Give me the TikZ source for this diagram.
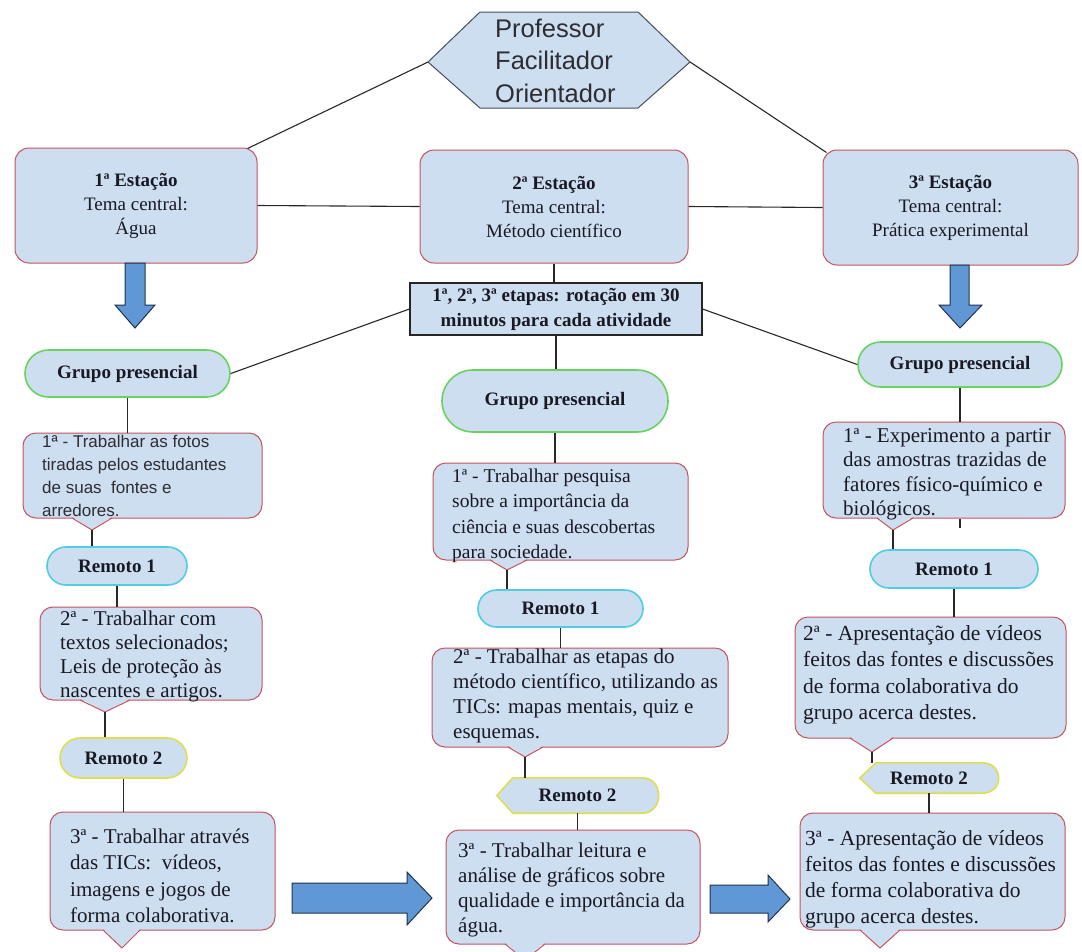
\documentclass[tikz,border=0pt]{standalone}
\usepackage{fontspec}
\setmainfont{Liberation Serif}
\newfontfamily\arialf{Liberation Sans}
\usetikzlibrary{shapes.misc,calc,backgrounds}
\definecolor{lightb}{RGB}{206,222,241}
\definecolor{boxred}{RGB}{196,84,92}
\definecolor{hexline}{RGB}{70,80,90}
\definecolor{gpgreen}{RGB}{105,210,95}
\definecolor{rcyan}{RGB}{80,205,225}
\definecolor{ryellow}{RGB}{222,222,80}
\definecolor{arrowb}{RGB}{95,152,212}
\definecolor{arrowline}{RGB}{35,50,75}
\definecolor{txt}{RGB}{25,25,35}
\definecolor{sanstxt}{RGB}{45,45,50}
\definecolor{conncol}{RGB}{40,40,40}
\newcommand{\mylines}[1]{\begin{tabular}[t]{@{}l@{}}#1\end{tabular}}
\newcommand{\pointer}[4]{%
  \fill[lightb] (#2,#1-1.5) -- (#4) -- (#3,#1-1.5) -- cycle;
  \draw[draw=boxred, line width=1pt, line join=round] (#2,#1) -- (#4) -- (#3,#1);}
\newcommand{\dispshape}[1]{%
  \begin{scope}[on background layer]
  \draw[fill=lightb, draw=ryellow, line width=1.6pt, line join=round]
    (#1.west) -- ($(#1.north west)+(16,0)$) -- ($(#1.north east)+(-16,0)$)
    .. controls ($(#1.north east)+(6,0)$) and ($(#1.south east)+(6,0)$) .. ($(#1.south east)+(-16,0)$)
    -- ($(#1.south west)+(16,0)$) -- cycle;
  \end{scope}}
\begin{document}
\begin{tikzpicture}[x=1pt,y=-1pt,
  station/.style={rectangle, rounded corners=14pt, draw=boxred, fill=lightb, line width=1pt, align=center, text=txt, font=\fontsize{19}{24}\selectfont, inner sep=0pt},
  callbox/.style={rectangle, rounded corners=13pt, draw=boxred, fill=lightb, line width=1pt, inner sep=0pt},
  calltext/.style={anchor=base west, inner sep=0pt, text=txt},
  pill/.style={rounded rectangle, fill=lightb, line width=1.6pt, inner sep=0pt, text=txt, font=\bfseries\fontsize{19}{23}\selectfont},
  gp/.style={pill, draw=gpgreen},
  rem1/.style={pill, draw=rcyan},
  rem2/.style={pill, draw=ryellow},
  remdisp/.style={inner sep=0pt, text=txt, font=\bfseries\fontsize{19}{23}\selectfont},
  conn/.style={draw=conncol, line width=1.1pt},
  blockarrow/.style={fill=arrowb, draw=arrowline, line width=1pt, line join=miter},
]
\useasboundingbox (0,0) rectangle (1082,951);
\begin{scope}[on background layer]
\fill[white] (0,0) rectangle (1082,951);
\end{scope}

% hexagon
\draw[fill=lightb, draw=hexline, line width=1pt] (428,62) coordinate (hexL) -- (480,12) -- (638,12) -- (690,62) coordinate (hexR) -- (638,108) -- (480,108) -- cycle;
\node[anchor=base west, inner sep=0pt, text=sanstxt, font=\arialf\fontsize{25.5}{32.5}\selectfont] (hext) at (495,37) {\mylines{Professor\\Facilitador\\Orientador}};

% stations
\node[station, minimum width=242pt, minimum height=115pt] (st1) at (136,205.5) {\textbf{1ª Estação}\\Tema central:\\Água};
\node[station, minimum width=268pt, minimum height=113pt] (st2) at (554,206.5) {\textbf{2ª Estação}\\Tema central:\\Método científico};
\node[station, minimum width=255pt, minimum height=115pt] (st3) at (950.5,207.5) {\textbf{3ª Estação}\\Tema central:\\Prática experimental};

\draw[conn] (hexL) -- ($(st1.north east)+(-10,1)$);
\draw[conn] (hexR) -- ($(st3.north west)+(4,3)$);
\draw[conn] (st1.east) -- (st2.west);
\draw[conn] (st2.east) -- (st3.west);

% down arrows
\draw[blockarrow] (125,263) -- (145,263) -- (145,305) -- (155,305) -- (135,328) -- (115,305) -- (125,305) -- cycle;
\draw[blockarrow] (950,265) -- (969,265) -- (969,305) -- (982,305) -- (960,328) -- (939,305) -- (950,305) -- cycle;

% label
\node[rectangle, draw=black!85, fill=lightb, line width=1.2pt, minimum width=292pt, minimum height=52pt, inner sep=0pt, align=center, text=txt, font=\bfseries\fontsize{19}{25}\selectfont] (lab) at (556,309) {1ª, 2ª, 3ª etapas: rotação em 30\\minutos para cada atividade};

% grupo presencial
\node[gp, minimum width=205pt, minimum height=47pt] (gp1) at (127.5,373.5) {Grupo presencial};
\node[gp, minimum width=226pt, minimum height=62pt] (gp2) at (555,401) {Grupo presencial};
\node[gp, minimum width=204pt, minimum height=45pt] (gp3) at (960,364.5) {Grupo presencial};

\draw[conn] (st2.south) -- (st2.south |- lab.north);
\draw[conn] (lab.south) -- (lab.south |- gp2.north);
\draw[conn] (lab.west) -- (gp1.east);
\draw[conn] (lab.east) -- (gp3.west);

% ---------- left column
\node[callbox, minimum width=239pt, minimum height=85pt] (c1L) at (142.5,475.5) {};
\draw[conn] (gp1.south) -- (gp1.south |- c1L.north);
\coordinate (t1L) at (92,530);
\pointer{518}{72}{112}{t1L}
\node[calltext, text=sanstxt, font=\arialf\fontsize{17}{23.3}\selectfont] at (42,447) {\mylines{1ª - Trabalhar as fotos\\tiradas pelos estudantes\\de suas\ \ fontes e\\arredores.}};
\node[rem1, minimum width=140pt, minimum height=38pt] (r1L) at (117,566) {Remoto 1};
\draw[conn] (t1L) -- (t1L |- r1L.north);
\node[callbox, minimum width=222pt, minimum height=93pt] (c2L) at (151,653.5) {};
\draw[conn] (r1L.south) -- (r1L.south |- c2L.north);
\coordinate (t2L) at (105,712);
\pointer{700}{80}{130}{t2L}
\node[calltext, font=\fontsize{21}{24}\selectfont] at (60,625) {\mylines{2ª - Trabalhar com\\textos selecionados;\\Leis de proteção às\\nascentes e artigos.}};
\node[rem2, minimum width=127pt, minimum height=40pt] (r2L) at (123.5,758) {Remoto 2};
\draw[conn] (t2L) -- (t2L |- r2L.north);
\node[callbox, minimum width=225pt, minimum height=118pt] (c3L) at (162.5,871) {};
\draw[conn] (r2L.south) -- (r2L.south |- c3L.north);
\coordinate (t3L) at (122,948);
\pointer{930}{103}{140}{t3L}
\node[calltext, font=\fontsize{21}{26.5}\selectfont] at (70,843) {\mylines{3ª - Trabalhar através\\das TICs:\ \ vídeos,\\imagens e jogos de\\forma colaborativa.}};

% ---------- middle column
\node[callbox, minimum width=255pt, minimum height=97pt] (c1M) at (560.5,511.5) {};
\draw[conn] (gp2.south) -- (gp2.south |- c1M.north);
\coordinate (t1M) at (507,570);
\pointer{560}{490}{527}{t1M}
\node[calltext, font=\fontsize{19.5}{25.5}\selectfont] at (452,482) {\mylines{1ª - Trabalhar pesquisa\\sobre a importância da\\ciência e suas descobertas\\para sociedade.}};
\node[rem1, minimum width=165pt, minimum height=37pt] (r1M) at (560.5,608.5) {Remoto 1};
\draw[conn] (t1M) -- (t1M |- r1M.north);
\node[callbox, minimum width=296pt, minimum height=99pt] (c2M) at (580,697.5) {};
\draw[conn] (r1M.south) -- (r1M.south |- c2M.north);
\coordinate (t2M) at (525,757);
\pointer{747}{508}{543}{t2M}
\node[calltext, font=\fontsize{21}{25}\selectfont] at (453,663) {\mylines{2ª - Trabalhar as etapas do\\método científico, utilizando as\\TICs: mapas mentais, quiz e\\esquemas.}};
\node[remdisp, minimum width=161pt, minimum height=35pt] (r2M) at (577.5,795.5) {Remoto 2};
\dispshape{r2M}
\draw[conn] (t2M) -- (t2M |- r2M.north);
\node[callbox, minimum width=254pt, minimum height=114pt] (c3M) at (573,887) {};
\draw[conn] (r2M.south) -- (r2M.south |- c3M.north);
\coordinate (t3M) at (525,960);
\pointer{944}{505}{545}{t3M}
\node[calltext, font=\fontsize{21}{25}\selectfont] at (458,857) {\mylines{3ª - Trabalhar leitura e\\análise de gráficos sobre\\qualidade e importância da\\água.}};

% ---------- right column
\node[callbox, minimum width=242pt, minimum height=96pt] (c1R) at (944,470) {};
\draw[conn] (gp3.south) -- (gp3.south |- c1R.north);
\coordinate (t1R) at (893,530);
\pointer{518}{877}{913}{t1R}
\coordinate (stub) at (960,528);
\draw[conn] (stub |- c1R.south) -- (stub);
\node[calltext, font=\fontsize{21}{24.5}\selectfont] at (843,442) {\mylines{1ª - Experimento a partir\\das amostras trazidas de\\fatores físico-químico e\\biológicos.}};
\node[rem1, minimum width=168pt, minimum height=38pt] (r1R) at (954,569) {Remoto 1};
\draw[conn] (t1R) -- (t1R |- r1R.north);
\node[callbox, minimum width=271pt, minimum height=121pt] (c2R) at (930.5,677.5) {};
\draw[conn] (r1R.south) -- (r1R.south |- c2R.north);
\coordinate (t2R) at (872,752);
\pointer{738}{850}{893}{t2R}
\node[calltext, font=\fontsize{21.5}{26.5}\selectfont] at (803,640) {\mylines{2ª - Apresentação de vídeos\\feitos das fontes e discussões\\de forma colaborativa do\\grupo acerca destes.}};
\node[remdisp, minimum width=138pt, minimum height=30pt] (r2R) at (929,778) {Remoto 2};
\dispshape{r2R}
\draw[conn] (t2R) -- (t2R |- r2R.north);
\node[callbox, minimum width=265pt, minimum height=117pt] (c3R) at (932.5,871.5) {};
\draw[conn] (r2R.south) -- (r2R.south |- c3R.north);
\coordinate (t3R) at (880,948);
\pointer{930}{860}{900}{t3R}
\node[calltext, font=\fontsize{21.5}{26}\selectfont] at (805,845) {\mylines{3ª - Apresentação de vídeos\\feitos das fontes e discussões\\de forma colaborativa do\\grupo acerca destes.}};

% big horizontal arrows
\draw[blockarrow] (292,883) -- (407,883) -- (407,872) -- (432,898) -- (407,925) -- (407,913) -- (292,913) -- cycle;
\draw[blockarrow] (710,885) -- (768,885) -- (768,875) -- (790,899) -- (768,922) -- (768,913) -- (710,913) -- cycle;
\end{tikzpicture}
\end{document}
